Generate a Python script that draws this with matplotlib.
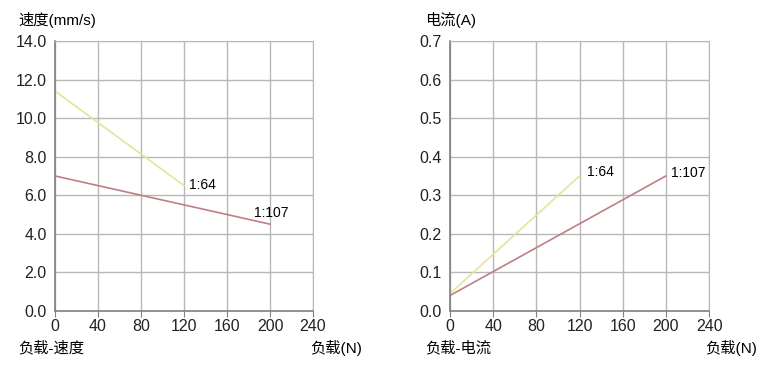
import matplotlib
matplotlib.use('Agg')
import matplotlib.pyplot as plt

plt.rcParams['font.family'] = ['Liberation Sans', 'Noto Sans CJK SC', 'DejaVu Sans']

# 负载 (N)
load_64 = [0, 120]
load_107 = [0, 200]
# 负载-速度
speed_64 = [11.4, 6.5]
speed_107 = [7.0, 4.5]
# 负载-电流
current_64 = [0.045, 0.35]
current_107 = [0.04, 0.35]

x_ticks = [0, 40, 80, 120, 160, 200, 240]
speed_ticks = [0, 2, 4, 6, 8, 10, 12, 14]
current_ticks = [0, 0.1, 0.2, 0.3, 0.4, 0.5, 0.6, 0.7]

c_64 = '#e3e59a'
c_107 = '#bf7f84'
grid_c = '#b8b8b8'

fig = plt.figure(figsize=(7.6, 3.68), dpi=100)
ax1 = fig.add_axes([0.0724, 0.155, 0.3395, 0.7337])
ax2 = fig.add_axes([0.592, 0.155, 0.341, 0.7337])


def style_axes(ax, yticks, yfmt):
    ax.set_xlim(0, 240)
    ax.set_ylim(yticks[0], yticks[-1])
    ax.set_xticks(x_ticks)
    ax.set_yticks(yticks)
    ax.set_yticklabels([yfmt.format(v) for v in yticks])
    ax.grid(True, color=grid_c, linewidth=1)
    ax.set_axisbelow(True)
    for side in ['top', 'right']:
        ax.spines[side].set_color(grid_c)
    for side in ['left', 'bottom']:
        ax.spines[side].set_color('#808080')
        ax.spines[side].set_linewidth(1.2)
    ax.tick_params(axis='x', length=4, color='#808080', labelsize=11.5, pad=2)
    ax.tick_params(axis='y', length=0, labelsize=11.5, pad=6)
    for lbl in ax.get_xticklabels() + ax.get_yticklabels():
        lbl.set_color('#222222')


# 速度
ax1.plot(load_64, speed_64, color=c_64, linewidth=1.2)
ax1.plot(load_107, speed_107, color=c_107, linewidth=1.2)
style_axes(ax1, speed_ticks, '{:.1f}')
ax1.text(125, 6.55, '1:64', fontsize=10, va='center')
ax1.text(185, 5.1, '1:107', fontsize=10, va='center')
fig.text(18 / 760, 1 - 20 / 368, '速度(mm/s)', fontsize=11, va='center')
fig.text(18 / 760, 1 - 348 / 368, '负载-速度', fontsize=11, va='center')
fig.text(310 / 760, 1 - 348 / 368, '负载(N)', fontsize=11, va='center')

# 电流
ax2.plot(load_64, current_64, color=c_64, linewidth=1.2)
ax2.plot(load_107, current_107, color=c_107, linewidth=1.2)
style_axes(ax2, current_ticks, '{:.1f}')
ax2.text(127, 0.36, '1:64', fontsize=10, va='center')
ax2.text(205, 0.358, '1:107', fontsize=10, va='center')
fig.text(425 / 760, 1 - 20 / 368, '电流(A)', fontsize=11, va='center')
fig.text(425 / 760, 1 - 348 / 368, '负载-电流', fontsize=11, va='center')
fig.text(705 / 760, 1 - 348 / 368, '负载(N)', fontsize=11, va='center')

fig.savefig('out.png', dpi=100)
